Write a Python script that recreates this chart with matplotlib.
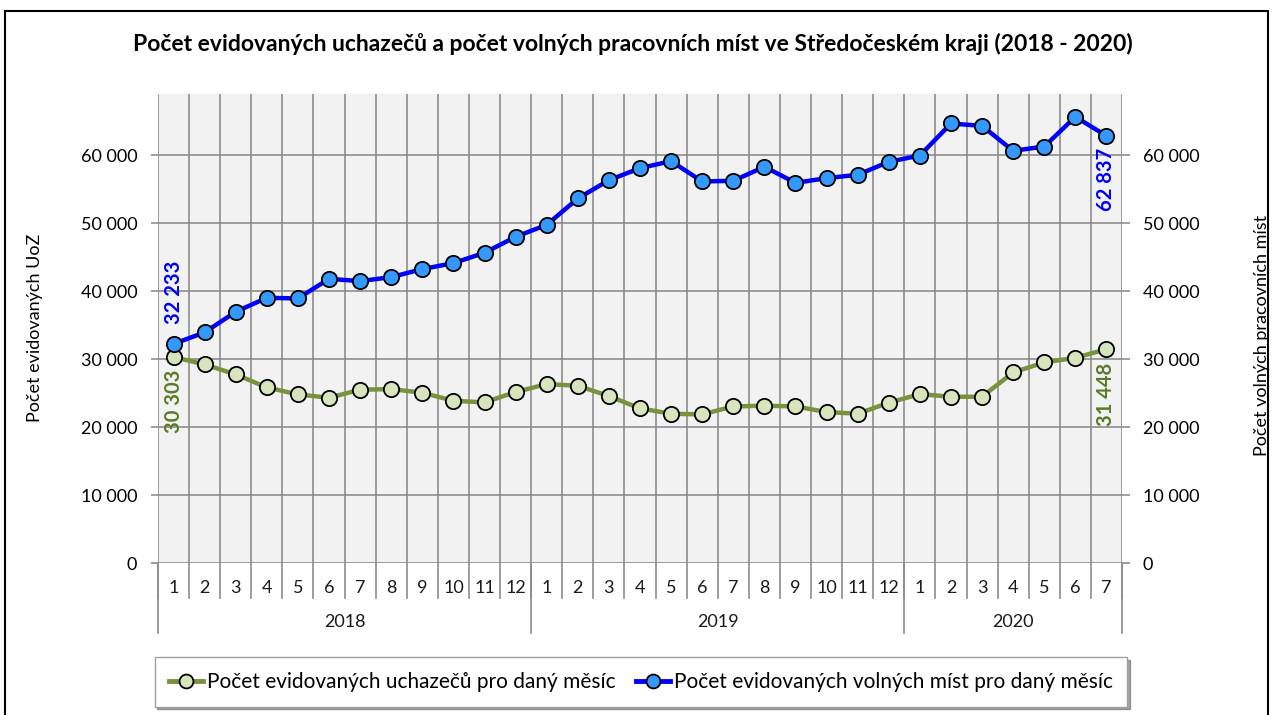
import matplotlib.pyplot as plt
import numpy as np
from matplotlib.ticker import FuncFormatter
from matplotlib.patches import Rectangle
from matplotlib.lines import Line2D

plt.rcParams['font.family'] = ['Lato', 'DejaVu Sans']

# data
years = ["2018", "2019", "2020"]
months_per_year = [12, 12, 7]
month_labels = [str(m) for m in range(1, 13)] * 2 + [str(m) for m in range(1, 8)]

uchazeci = [30303, 29210, 27740, 25830, 24800, 24310, 25490, 25590, 25050, 23870, 23630, 25150,
            26320, 26080, 24560, 22750, 21960, 21860, 23040, 23140, 23040, 22210, 21960, 23580,
            24850, 24460, 24460, 28040, 29510, 30190, 31448]
volna_mista = [32233, 33930, 36960, 39020, 38920, 41810, 41470, 42060, 43240, 44120, 45640, 47990,
               49750, 53630, 56320, 58090, 59120, 56130, 56230, 58290, 55930, 56620, 57110, 59020,
               59950, 64660, 64310, 60640, 61270, 65640, 62837]

name_uch = "Počet evidovaných uchazečů pro daný měsíc"
name_vm = "Počet evidovaných volných míst pro daný měsíc"

green_line = "#77933C"
green_face = "#D7E4BD"
green_text = "#5C7A29"
blue_line = "#0000FF"
blue_face = "#3399FF"
grid_c = "#8C8C8C"

W, H = 1274, 715
fig = plt.figure(figsize=(W / 100, H / 100), dpi=100)
ax = fig.add_axes([158 / W, 1 - 563 / H, (1122 - 158) / W, (563 - 94) / H])
ax2 = ax.twinx()

n = len(month_labels)
x = np.arange(n)
ymax = 69000
yticks = list(range(0, 60001, 10000))
fmt = FuncFormatter(lambda v, p: f"{int(v):,}".replace(",", " "))

for a in (ax, ax2):
    a.set_xlim(-0.5, n - 0.5)
    a.set_ylim(0, ymax)
    a.set_yticks(yticks)
    a.yaxis.set_major_formatter(fmt)
    for s in a.spines.values():
        s.set_visible(False)
    a.set_xticks([])

ax.set_facecolor("#F2F2F2")
ax.tick_params(axis="y", length=5, width=1.2, color=grid_c, labelsize=13, pad=10)
ax2.tick_params(axis="y", length=6, width=1.2, color=grid_c, labelsize=13, pad=9)

# grid
for yv in yticks:
    ax.axhline(yv, color=grid_c, lw=1.2, zorder=1)
for b in np.arange(-0.5, n):
    ax.axvline(b, color=grid_c, lw=1.2, zorder=1)

# category axis (months + years)
tr = ax.get_xaxis_transform()
for i, lab in enumerate(month_labels):
    ax.text(i, -0.053, lab, transform=tr, ha="center", va="center", fontsize=13, color="#1a1a1a")
for b in np.arange(-0.5, n):
    ax.plot([b, b], [0, -0.075], transform=tr, color=grid_c, lw=1.2, clip_on=False)
start = 0
for yr, cnt in zip(years, months_per_year):
    ax.plot([start - 0.5, start - 0.5], [0, -0.15], transform=tr, color=grid_c, lw=1.2, clip_on=False)
    ax.text(start + (cnt - 1) / 2, -0.126, yr, transform=tr, ha="center", va="center",
            fontsize=13, color="#1a1a1a")
    start += cnt
ax.plot([n - 0.5, n - 0.5], [0, -0.15], transform=tr, color=grid_c, lw=1.2, clip_on=False)

# series
ax.plot(x, uchazeci, color=green_line, lw=3.2, marker="o", ms=11, mfc=green_face,
        mec="black", mew=1.3, zorder=3)
ax2.plot(x, volna_mista, color=blue_line, lw=3.2, marker="o", ms=11, mfc=blue_face,
         mec="black", mew=1.3, zorder=3)

# data labels (first and last)
lab_fmt = lambda v: f"{v:,}".replace(",", " ")
ax2.text(x[0], volna_mista[0] + 2900, lab_fmt(volna_mista[0]), rotation=90, ha="center",
         va="bottom", color=blue_line, fontweight="bold", fontsize=14.5)
ax2.text(x[-1], volna_mista[-1] - 1800, lab_fmt(volna_mista[-1]), rotation=90, ha="center",
         va="top", color=blue_line, fontweight="bold", fontsize=14.5)
ax.text(x[0], uchazeci[0] - 1900, lab_fmt(uchazeci[0]), rotation=90, ha="center",
        va="top", color=green_text, fontweight="bold", fontsize=14.5)
ax.text(x[-1], uchazeci[-1] - 2000, lab_fmt(uchazeci[-1]), rotation=90, ha="center",
        va="top", color=green_text, fontweight="bold", fontsize=14.5)

# titles
fig.text(633 / W, 1 - 44 / H,
         "Počet evidovaných uchazečů a počet volných pracovních míst ve Středočeském kraji (2018 - 2020)",
         ha="center", va="center", fontsize=16.5, fontweight="bold")
fig.text(35 / W, 1 - 328 / H, "Počet evidovaných UoZ", rotation=90, ha="center", va="center",
         fontsize=13)
fig.text(1262 / W, 1 - 335 / H, "Počet volných pracovních míst", rotation=90, ha="center",
         va="center", fontsize=13)

# legend
handles = [
    Line2D([], [], color=green_line, lw=3.5, marker="o", ms=10, mfc=green_face, mec="black", mew=1.3),
    Line2D([], [], color=blue_line, lw=3.5, marker="o", ms=10, mfc=blue_face, mec="black", mew=1.3),
]
leg = fig.legend(handles, [name_uch, name_vm], loc="center", bbox_to_anchor=(641 / W, 1 - 682 / H),
                 ncol=2, frameon=True, fancybox=False, shadow=True, edgecolor="#A0A0A0",
                 fontsize=15, handlelength=1.6, handletextpad=0.2, columnspacing=1.0,
                 borderpad=0.7)
leg.get_frame().set_linewidth(1.0)

# outer chart border
fig.patches.append(Rectangle((5 / W, -0.05), (1268 - 5) / W, 1 - 11 / H + 0.05,
                             transform=fig.transFigure, fill=False, edgecolor="black", lw=1.5))

fig.savefig("out.png", dpi=100)
